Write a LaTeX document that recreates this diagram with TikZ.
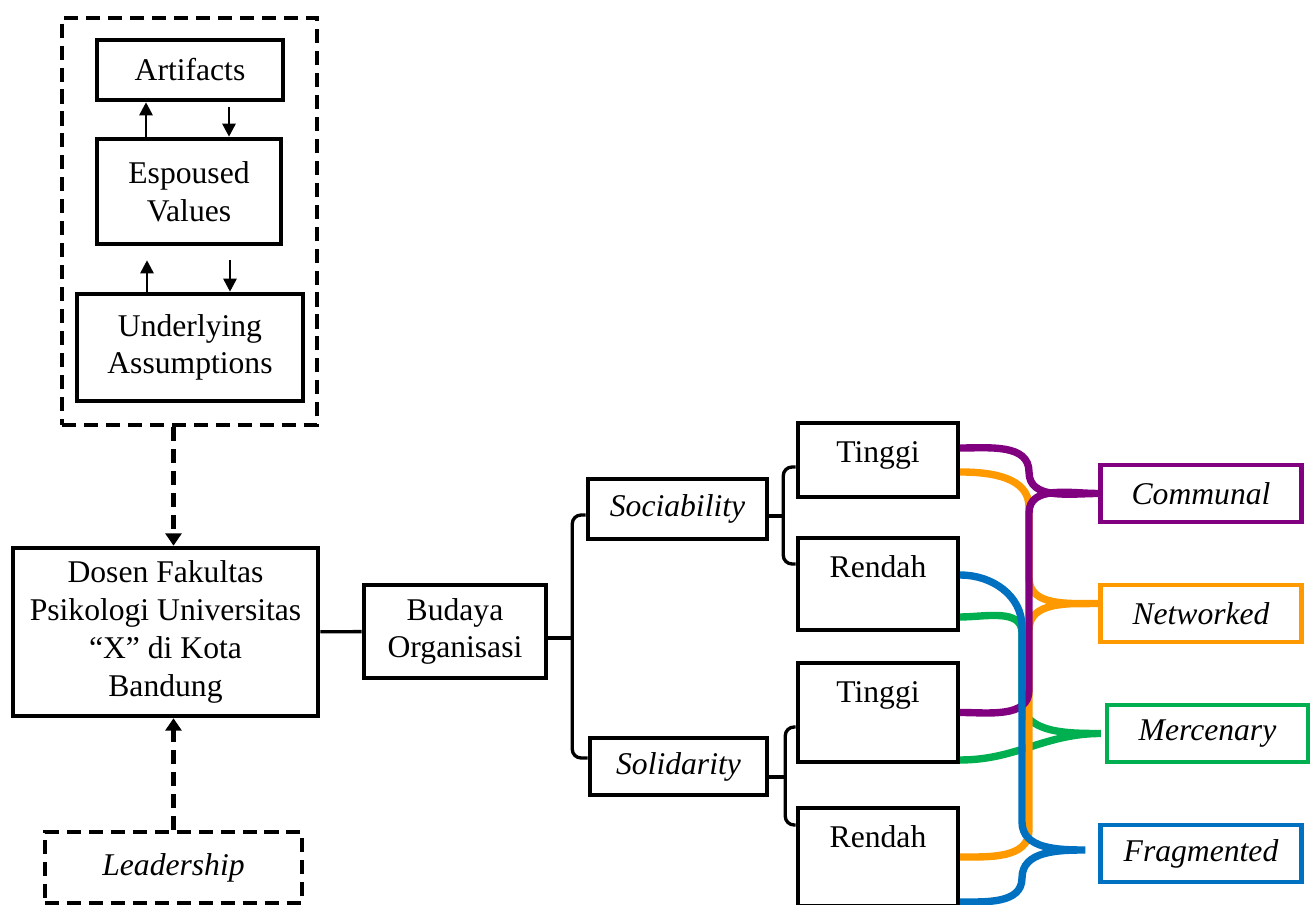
\documentclass[tikz,border=0pt]{standalone}
\usepackage{fontspec}
\setmainfont{Liberation Serif}
\usetikzlibrary{positioning, arrows.meta, calc, backgrounds}

\definecolor{communal}{HTML}{800080}
\definecolor{networked}{HTML}{FF9900}
\definecolor{mercenary}{HTML}{00B050}
\definecolor{fragmented}{HTML}{0070C0}

\begin{document}
\begin{tikzpicture}[
		x=0.02cm, y=0.02cm,
		font=\fontsize{18}{21.5}\selectfont,
		mybox/.style={draw, line width=2.6pt, align=center, inner sep=2pt},
		dashbox/.style={mybox, dash pattern=on 8pt off 4.5pt},
		levelbox/.style={mybox, minimum width=3.2cm, inner sep=0pt, text height=0.8cm},
		catbox/.style={mybox, minimum width=4.02cm, minimum height=1.14cm, font=\fontsize{18}{21.5}\selectfont\itshape},
		link/.style={line width=1.9pt},
		arr/.style={-{Triangle[length=7.5pt, width=7.5pt]}, line width=1.5pt},
		dasharr/.style={-{Triangle[length=7pt, width=9pt]}, line width=2.4pt, dash pattern=on 8pt off 4.5pt},
		brace/.style={line width=4.2pt, line cap=round}
	]
	\useasboundingbox (0,0) rectangle (1314,905);

	% ==========================================
	% 1. CULTURE LEVELS
	% ==========================================
	\node[dashbox, minimum width=5.1cm, minimum height=8.14cm] (culture) at (189.5,683.5) {};
	\node[mybox, minimum width=3.72cm, minimum height=1.2cm] (art) at (190,835) {Artifacts};
	\node[mybox, minimum width=3.68cm, minimum height=2.1cm] (esp) at (189,713.5) {Espoused\\Values};
	\node[mybox, minimum width=4.52cm, minimum height=2.14cm] (und) at (190,557.5) {Underlying\\Assumptions};

	\draw[arr] ($(esp.north)+(-43,0)$) -- ($(esp.north |- art.south)+(-43,0)$);
	\draw[arr, shorten <=0.1cm] ($(esp.north |- art.south)+(40,0)$) -- ($(esp.north)+(40,0)$);
	\draw[arr, shorten >=0.28cm] ($(und.north)+(-43,0)$) -- ($(und.north |- esp.south)+(-43,0)$);
	\draw[arr, shorten <=0.28cm] ($(und.north |- esp.south)+(40,0)$) -- ($(und.north)+(40,0)$);

	% ==========================================
	% 2. SUBJECT AND INFLUENCES
	% ==========================================
	\node[mybox, minimum width=6.1cm, minimum height=3.36cm] (dosen) at (165.5,273) {Dosen Fakultas\\Psikologi Universitas\\“X” di Kota\\Bandung};
	\node[dashbox, minimum width=5.14cm, minimum height=1.42cm, font=\fontsize{18}{21.5}\selectfont\itshape] (lead) at (173.5,37.5) {Leadership};

	\draw[dasharr] (culture.south -| lead.north) -- (dosen.north -| lead.north);
	\draw[dasharr] (lead.north) -- (dosen.south -| lead.north);

	% ==========================================
	% 3. DIMENSIONS
	% ==========================================
	\node[mybox, minimum width=3.64cm, minimum height=1.86cm] (budaya) at (455,273.5) {Budaya\\Organisasi};
	\draw[link] (dosen) -- (budaya);

	\node[mybox, minimum width=3.58cm, minimum height=1.2cm, font=\fontsize{18}{21.5}\selectfont\itshape] (soc) at (677.5,396) {Sociability};
	\node[mybox, minimum width=3.54cm, minimum height=1.14cm, font=\fontsize{18}{21.5}\selectfont\itshape] (sol) at (678.5,138.5) {Solidarity};

	\node[levelbox, text depth=0.68cm] (soc_hi) at (878,445) {Tinggi};
	\node[levelbox, text depth=1.04cm] (soc_lo) at (878,321) {Rendah};
	\node[levelbox, text depth=1.18cm] (sol_hi) at (878,192.5) {Tinggi};
	\node[levelbox, text depth=1.16cm] (sol_lo) at (878,48) {Rendah};

	% brackets
	\draw[link, rounded corners=5pt] ([yshift=-0.12cm]soc.west) -| ($(budaya.east)+(24,0)$) |- ([yshift=0.17cm]sol.west);
	\draw[link] ([yshift=-0.13cm]budaya.east) -- ++(24,0);
	\draw[link, rounded corners=5pt] ([yshift=-0.14cm]soc_hi.west) -| ($(soc.east)+(14,0)$) |- ([yshift=0.4cm]soc_lo.west);
	\draw[link] ([yshift=-0.14cm]soc.east) -- ++(14,0);
	\draw[link, rounded corners=5pt] ([yshift=-0.29cm]sol_hi.west) -| ($(sol.east)+(16,0)$) |- ([yshift=0.64cm]sol_lo.west);
	\draw[link] ([yshift=-0.21cm]sol.east) -- ++(16,0);

	% ==========================================
	% 4. CULTURE TYPES
	% ==========================================
	\node[catbox, draw=communal] (comm) at (1201,411.5) {Communal};
	\node[catbox, draw=networked] (netw) at (1201,291.5) {Networked};
	\node[catbox, draw=mercenary] (merc) at (1207.5,171.5) {Mercenary};
	\node[catbox, draw=fragmented] (frag) at (1201,51.5) {Fragmented};

	\begin{scope}[on background layer]
		\draw[brace, mercenary] ([yshift=-0.66cm]soc_lo.east) to[out=0,in=90] (1022,272) -- (1022,205)
			to[out=-90,in=180] ([xshift=-0.08cm]merc.west) to[out=180,in=0] ([yshift=-0.95cm]sol_hi.east);
		\draw[brace, networked] ([yshift=-0.24cm]soc_hi.east) to[out=0,in=90] (1029,398) -- (1029,327)
			to[out=-90,in=180] ([yshift=0.2cm]netw.west) to[out=180,in=90] (1029,275) -- (1029,75)
			to[out=-90,in=0] (sol_lo.east);
		\draw[brace, communal] ([yshift=0.24cm]soc_hi.east) to[out=0,in=90] (1029,433)
			to[out=-90,in=180] (comm.west) to[out=180,in=90] (1029,392) -- (1029,215)
			to[out=-90,in=0] (sol_hi.east);
		\draw[brace, fragmented] ([yshift=0.18cm]soc_lo.east) to[out=0,in=90] (1022,278) -- (1022,83)
			to[out=-90,in=180] ([xshift=-0.26cm,yshift=0.07cm]frag.west) to[out=180,in=90] (1022,27)
			to[out=-90,in=0] ([yshift=-0.9cm]sol_lo.east);
	\end{scope}

\end{tikzpicture}
\end{document}
